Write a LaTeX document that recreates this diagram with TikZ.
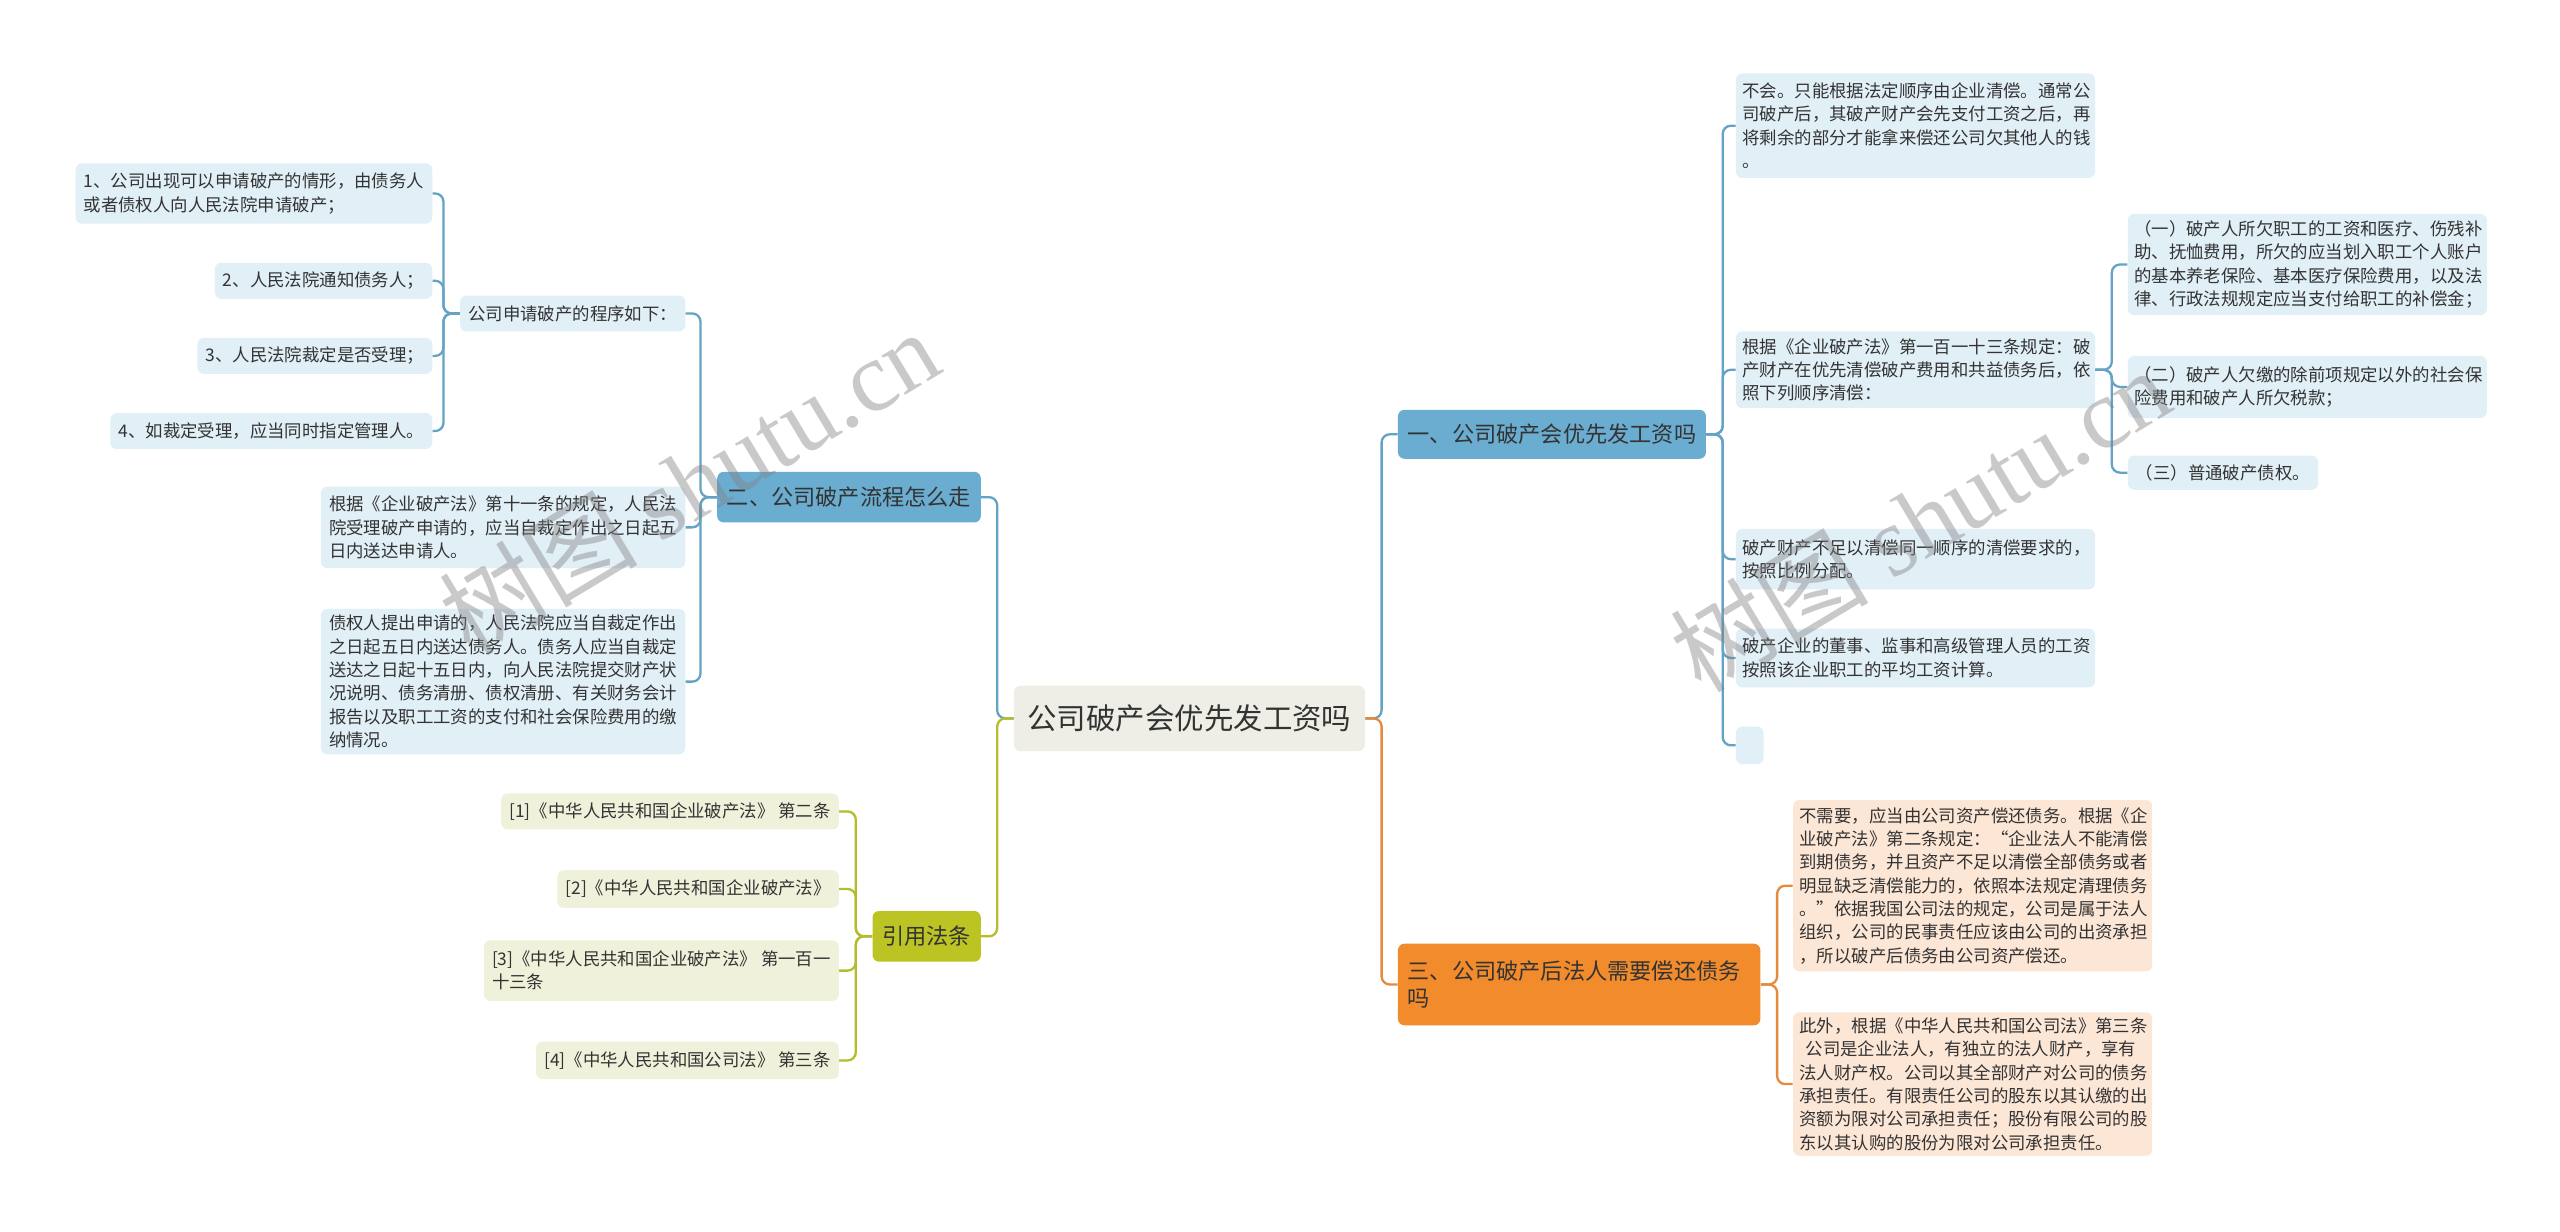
\documentclass[tikz,border=0pt]{standalone}
\usepackage{fontspec}
\setmainfont{Noto Sans CJK SC}
\newfontfamily\wmfont{Liberation Serif}

\newlength\unitpx
\setlength\unitpx{0.03cm}

\definecolor{rootfill}{HTML}{EEEEE6}
\definecolor{bluefill}{HTML}{6AADD0}
\definecolor{blueline}{HTML}{64A3C6}
\definecolor{bluelight}{HTML}{E1EFF7}
\definecolor{orangefill}{HTML}{F28B2C}
\definecolor{orangeline}{HTML}{E58A3C}
\definecolor{orangelight}{HTML}{FCE6D6}
\definecolor{olivefill}{HTML}{BCC423}
\definecolor{oliveline}{HTML}{B4BD2B}
\definecolor{olivelight}{HTML}{F0F1DA}
\definecolor{textdark}{HTML}{333333}

\tikzset{
  topic/.style={rounded corners=0.12cm, fill=rootfill, text=textdark,
    font=\fontsize{15.4}{18}\selectfont, minimum width=215\unitpx,
    minimum height=40\unitpx},
  branch/.style={rounded corners=0.12cm, text=textdark, align=left,
    font=\fontsize{11.6}{14.5}\selectfont, inner xsep=6\unitpx},
  leaf/.style={rounded corners=0.12cm, text=textdark, align=left,
    font=\fontsize{9.1}{12.2}\selectfont, inner xsep=5\unitpx, inner ysep=2\unitpx},
  wide/.style={leaf, inner xsep=4\unitpx, text width=212\unitpx},
  link/.style={line width=1.2pt, rounded corners=0.15cm},
  watermark/.style={rotate=31, text=gray, opacity=0.42, font=\fontsize{52}{52}\selectfont},
}

\begin{document}
\begin{tikzpicture}[x=0.03cm,y=-0.03cm]
\useasboundingbox (0,0) rectangle (1568,754);
\fill[white] (0,0) rectangle (1568,754);

% root
\node[topic] (root) at (728.5,440) {公司破产会优先发工资吗};

% branch one (right, blue)
\node[branch, fill=bluefill, anchor=west, minimum height=30\unitpx] (one) at (856,266) {一、公司破产会优先发工资吗};
\node[wide, fill=bluelight, anchor=west, minimum height=64\unitpx] (c1) at (1063,77)
  {不会。只能根据法定顺序由企业清偿。通常公\\司破产后，其破产财产会先支付工资之后，再\\将剩余的部分才能拿来偿还公司欠其他人的钱\\。};
\node[wide, fill=bluelight, anchor=west, minimum height=47\unitpx] (c2) at (1063,226.5)
  {根据《企业破产法》第一百一十三条规定：破\\产财产在优先清偿破产费用和共益债务后，依\\照下列顺序清偿：};
\node[wide, fill=bluelight, anchor=west, minimum height=62\unitpx] (g1) at (1303,162)
  {（一）破产人所欠职工的工资和医疗、伤残补\\助、抚恤费用，所欠的应当划入职工个人账户\\的基本养老保险、基本医疗保险费用，以及法\\律、行政法规规定应当支付给职工的补偿金；};
\node[wide, fill=bluelight, anchor=west, minimum height=38\unitpx] (g2) at (1303,237)
  {（二）破产人欠缴的除前项规定以外的社会保\\险费用和破产人所欠税款；};
\node[leaf, fill=bluelight, anchor=west, minimum height=21\unitpx] (g3) at (1303,289.5)
  {（三）普通破产债权。};
\node[wide, fill=bluelight, anchor=west, minimum height=37\unitpx] (c3) at (1063,342.5)
  {破产财产不足以清偿同一顺序的清偿要求的，\\按照比例分配。};
\node[wide, fill=bluelight, anchor=west, minimum height=36\unitpx] (c4) at (1063,403)
  {破产企业的董事、监事和高级管理人员的工资\\按照该企业职工的平均工资计算。};
\node[leaf, fill=bluelight, anchor=west, minimum width=17\unitpx, minimum height=23\unitpx] (c5) at (1063,456.5) {};

% branch three (right, orange)
\node[branch, fill=orangefill, anchor=west, text width=210\unitpx, minimum height=50\unitpx] (three) at (856,603)
  {三、公司破产后法人需要偿还债务\\吗};
\node[wide, fill=orangelight, anchor=west, minimum height=105\unitpx] (o1) at (1098,542.5)
  {不需要，应当由公司资产偿还债务。根据《企\\业破产法》第二条规定：“企业法人不能清偿\\到期债务，并且资产不足以清偿全部债务或者\\明显缺乏清偿能力的，依照本法规定清理债务\\。”依据我国公司法的规定，公司是属于法人\\组织，公司的民事责任应该由公司的出资承担\\，所以破产后债务由公司资产偿还。};
\node[wide, fill=orangelight, anchor=west, minimum height=88\unitpx] (o2) at (1098,664)
  {此外，根据《中华人民共和国公司法》第三条\\\hspace*{0.35em}公司是企业法人，有独立的法人财产，享有\\法人财产权。公司以其全部财产对公司的债务\\承担责任。有限责任公司的股东以其认缴的出\\资额为限对公司承担责任；股份有限公司的股\\东以其认购的股份为限对公司承担责任。};

% branch two (left, blue)
\node[branch, fill=bluefill, anchor=east, minimum height=31\unitpx] (two) at (601,304.5) {二、公司破产流程怎么走};
\node[leaf, fill=bluelight, anchor=east, minimum height=22\unitpx] (p) at (420,192) {公司申请破产的程序如下：};
\node[leaf, fill=bluelight, anchor=east, minimum height=37\unitpx] (s1) at (265,118.5)
  {1、公司出现可以申请破产的情形，由债务人\\或者债权人向人民法院申请破产；};
\node[leaf, fill=bluelight, anchor=east, minimum height=22\unitpx] (s2) at (265,172) {2、人民法院通知债务人；};
\node[leaf, fill=bluelight, anchor=east, minimum height=22\unitpx] (s3) at (265,218) {3、人民法院裁定是否受理；};
\node[leaf, fill=bluelight, anchor=east, minimum height=22\unitpx] (s4) at (265,264) {4、如裁定受理，应当同时指定管理人。};
\node[leaf, fill=bluelight, anchor=east, minimum height=50\unitpx] (q) at (420,323)
  {根据《企业破产法》第十一条的规定，人民法\\院受理破产申请的，应当自裁定作出之日起五\\日内送达申请人。};
\node[leaf, fill=bluelight, anchor=east, minimum height=89\unitpx] (r) at (420,417.5)
  {债权人提出申请的，人民法院应当自裁定作出\\之日起五日内送达债务人。债务人应当自裁定\\送达之日起十五日内，向人民法院提交财产状\\况说明、债务清册、债权清册、有关财务会计\\报告以及职工工资的支付和社会保险费用的缴\\纳情况。};

% cited laws (left, olive)
\node[branch, fill=olivefill, anchor=east, minimum height=31\unitpx] (cite) at (601,573.5) {引用法条};
\node[leaf, fill=olivelight, anchor=east, minimum height=22\unitpx] (l1) at (514,497) {[1]《中华人民共和国企业破产法》 第二条};
\node[leaf, fill=olivelight, anchor=east, minimum height=23\unitpx] (l2) at (514,544.5) {[2]《中华人民共和国企业破产法》};
\node[leaf, fill=olivelight, anchor=east, minimum height=37\unitpx] (l3) at (514,594.5)
  {[3]《中华人民共和国企业破产法》 第一百一\\十三条};
\node[leaf, fill=olivelight, anchor=east, minimum height=23\unitpx] (l4) at (514,649.5) {[4]《中华人民共和国公司法》 第三条};

% connectors
\draw[link, blueline] (root.east) -- ++(10,0) |- (one.west);
\draw[link, orangeline] (root.east) -- ++(10,0) |- (three.west);
\draw[link, blueline] (root.west) -- ++(-10,0) |- (two.east);
\draw[link, oliveline] (root.west) -- ++(-10,0) |- (cite.east);

\foreach \c in {c1,c2,c3,c4,c5}
  \draw[link, blueline] (one.east) -- ++(10,0) |- (\c.west);
\foreach \g in {g1,g2,g3}
  \draw[link, blueline] (c2.east) -- ++(10,0) |- (\g.west);
\foreach \o in {o1,o2}
  \draw[link, orangeline] (three.east) -- ++(10,0) |- (\o.west);
\foreach \c in {p,q,r}
  \draw[link, blueline] (two.west) -- ++(-10,0) |- (\c.east);
\foreach \s in {s1,s2,s3,s4}
  \draw[link, blueline] (p.west) -- ++(-10,0) |- (\s.east);
\foreach \l in {l1,l2,l3,l4}
  \draw[link, oliveline] (cite.west) -- ++(-10,0) |- (\l.east);

% watermarks
\node[watermark] (wm1) at (422,295) {树图 {\wmfont shutu.cn}};
\node[watermark] (wm2) at (1176,318) {树图 {\wmfont shutu.cn}};

\end{tikzpicture}
\end{document}
